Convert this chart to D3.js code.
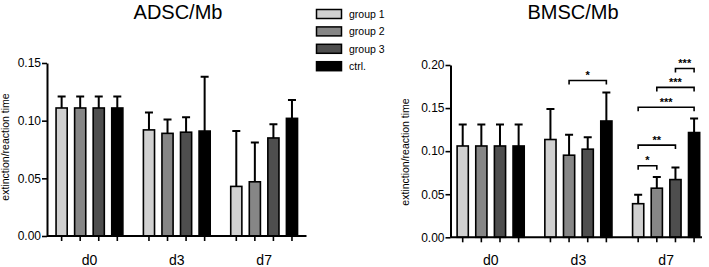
<!DOCTYPE html>
<html>
<head>
<meta charset="utf-8">
<script src="https://cdn.jsdelivr.net/npm/d3@7"></script>
<style>
  body { margin: 0; background: #fff; }
  svg { font-family: "Liberation Sans", Arial, sans-serif; }
</style>
</head>
<body>
<div id="chart"></div>
<script>
// Data
const categories = ["d0", "d3", "d7"];
const series = ["group 1", "group 2", "group 3", "ctrl."];
const colors = ["#d0d0d0", "#868686", "#4e4e4e", "#000000"];

// ADSC/Mb: mean and upper error per category, per series
const adscMean = [[0.111, 0.111, 0.111, 0.111], [0.092, 0.089, 0.090, 0.091], [0.043, 0.047, 0.085, 0.102]];
const adscErr = [[0.010, 0.010, 0.010, 0.010], [0.015, 0.012, 0.013, 0.047], [0.048, 0.034, 0.012, 0.016]];
const adscTicks = [0, 0.05, 0.10, 0.15];

// BMSC/Mb
const bmscMean = [[0.106, 0.106, 0.106, 0.106], [0.1135, 0.0953, 0.1023, 0.135], [0.039, 0.057, 0.067, 0.1216]];
const bmscErr = [[0.025, 0.025, 0.025, 0.025], [0.0355, 0.0237, 0.0137, 0.033], [0.0105, 0.013, 0.014, 0.0164]];
const bmscTicks = [0, 0.05, 0.10, 0.15, 0.20];

// significance brackets for BMSC: category, from series, to series, level, label
const bmscSig = [
  ["d3", 1, 3, 0.182, "*"],
  ["d7", 0, 1, 0.083, "*"],
  ["d7", 0, 2, 0.107, "**"],
  ["d7", 0, 3, 0.151, "***"],
  ["d7", 1, 3, 0.174, "***"],
  ["d7", 2, 3, 0.196, "***"]
];

const svg = d3.select("#chart")
  .append("svg")
  .attr("width", 709)
  .attr("height", 267);

function drawPanel(opt) {
  const g = svg.append("g");

  const x0 = d3.scaleBand()
    .domain(categories)
    .range(opt.xRange)
    .paddingInner(0.15)
    .paddingOuter(0.075);

  const x1 = d3.scaleBand()
    .domain(d3.range(series.length))
    .range([0, x0.bandwidth()])
    .paddingInner(0.4)
    .paddingOuter(0.2);

  const y = d3.scaleLinear()
    .domain([0, opt.yMax])
    .range(opt.yRange);

  const rows = [];
  categories.forEach((c, ci) => {
    series.forEach((s, si) => {
      rows.push({ cat: c, si: si, mean: opt.mean[ci][si], err: opt.err[ci][si] });
    });
  });

  const cx = d => x0(d.cat) + x1(d.si) + x1.bandwidth() / 2;

  // error bars (upper only)
  g.selectAll(".err")
    .data(rows)
    .enter()
    .append("path")
    .attr("d", d => `M${cx(d)},${y(d.mean)}V${y(d.mean + d.err)}M${cx(d) - 4},${y(d.mean + d.err)}H${cx(d) + 4}`)
    .attr("stroke", "#000")
    .attr("stroke-width", 2)
    .attr("fill", "none");

  // bars
  g.selectAll(".bar")
    .data(rows)
    .enter()
    .append("rect")
    .attr("x", d => x0(d.cat) + x1(d.si))
    .attr("y", d => y(d.mean))
    .attr("width", x1.bandwidth())
    .attr("height", d => y(0) - y(d.mean))
    .attr("fill", d => colors[d.si])
    .attr("stroke", "#000")
    .attr("stroke-width", 1.6);

  // y axis
  const yAxis = g.append("g")
    .attr("transform", `translate(${opt.xAxis0},0)`)
    .call(d3.axisLeft(y).tickValues(opt.ticks).tickFormat(d3.format(".2f")).tickSize(5).tickSizeOuter(0));
  yAxis.select(".domain").attr("stroke-width", 2);
  yAxis.selectAll(".tick line").attr("stroke-width", 1.6);
  yAxis.selectAll(".tick text").attr("font-size", 12).attr("fill", "#000").attr("x", -6)
    .attr("font-family", "Liberation Sans, Arial, sans-serif");

  // x axis line with ticks at each bar
  g.append("line")
    .attr("x1", opt.xAxis0).attr("x2", opt.xAxisEnd)
    .attr("y1", y(0)).attr("y2", y(0))
    .attr("stroke", "#000").attr("stroke-width", 2);
  g.selectAll(".xt")
    .data(rows)
    .enter()
    .append("line")
    .attr("x1", cx).attr("x2", cx)
    .attr("y1", y(0)).attr("y2", y(0) + 5)
    .attr("stroke", "#000").attr("stroke-width", 1.6);

  g.selectAll(".xl")
    .data(categories)
    .enter()
    .append("text")
    .attr("x", d => x0(d) + x0.bandwidth() / 2)
    .attr("y", 265)
    .attr("text-anchor", "middle")
    .attr("font-size", 14)
    .text(d => d);

  // title
  g.append("text")
    .attr("x", opt.titleX)
    .attr("y", 19)
    .attr("text-anchor", "middle")
    .attr("font-size", 20)
    .text(opt.title);

  // y title
  g.append("text")
    .attr("transform", `translate(${opt.yTitleX},${opt.yTitleY}) rotate(-90)`)
    .attr("text-anchor", "middle")
    .attr("font-size", 10.5)
    .text("extinction/reaction time");

  // significance brackets
  (opt.sig || []).forEach(s => {
    const xa = x0(s[0]) + x1(s[1]) + x1.bandwidth() / 2;
    const xb = x0(s[0]) + x1(s[2]) + x1.bandwidth() / 2;
    const yy = y(s[3]);
    g.append("path")
      .attr("d", `M${xa},${yy + 4}V${yy}H${xb}V${yy + 4}`)
      .attr("stroke", "#000").attr("stroke-width", 1.6).attr("fill", "none");
    g.append("text")
      .attr("x", (xa + xb) / 2)
      .attr("y", yy - 1.5)
      .attr("text-anchor", "middle")
      .attr("font-size", 11)
      .attr("font-weight", "bold")
      .text(s[4]);
  });
}

drawPanel({
  title: "ADSC/Mb", titleX: 178,
  mean: adscMean, err: adscErr, ticks: adscTicks, yMax: 0.15,
  xRange: [45.8, 307.8], yRange: [236, 63],
  xAxis0: 47, xAxisEnd: 306.5,
  yTitleX: 9, yTitleY: 147
});

drawPanel({
  title: "BMSC/Mb", titleX: 573,
  mean: bmscMean, err: bmscErr, ticks: bmscTicks, yMax: 0.20,
  xRange: [446.8, 710], yRange: [237.3, 65],
  xAxis0: 450.5, xAxisEnd: 702,
  yTitleX: 409, yTitleY: 152,
  sig: bmscSig
});

// legend
const legend = svg.append("g");
legend.selectAll("rect")
  .data(series)
  .enter()
  .append("rect")
  .attr("x", 316.5)
  .attr("y", (d, i) => 9.5 + i * 17.4)
  .attr("width", 25)
  .attr("height", 9)
  .attr("fill", (d, i) => colors[i])
  .attr("stroke", "#000")
  .attr("stroke-width", 1.5);
legend.selectAll("text")
  .data(series)
  .enter()
  .append("text")
  .attr("x", 349)
  .attr("y", (d, i) => 17.8 + i * 17.4)
  .attr("font-size", 10.5)
  .text(d => d);
</script>
</body>
</html>
